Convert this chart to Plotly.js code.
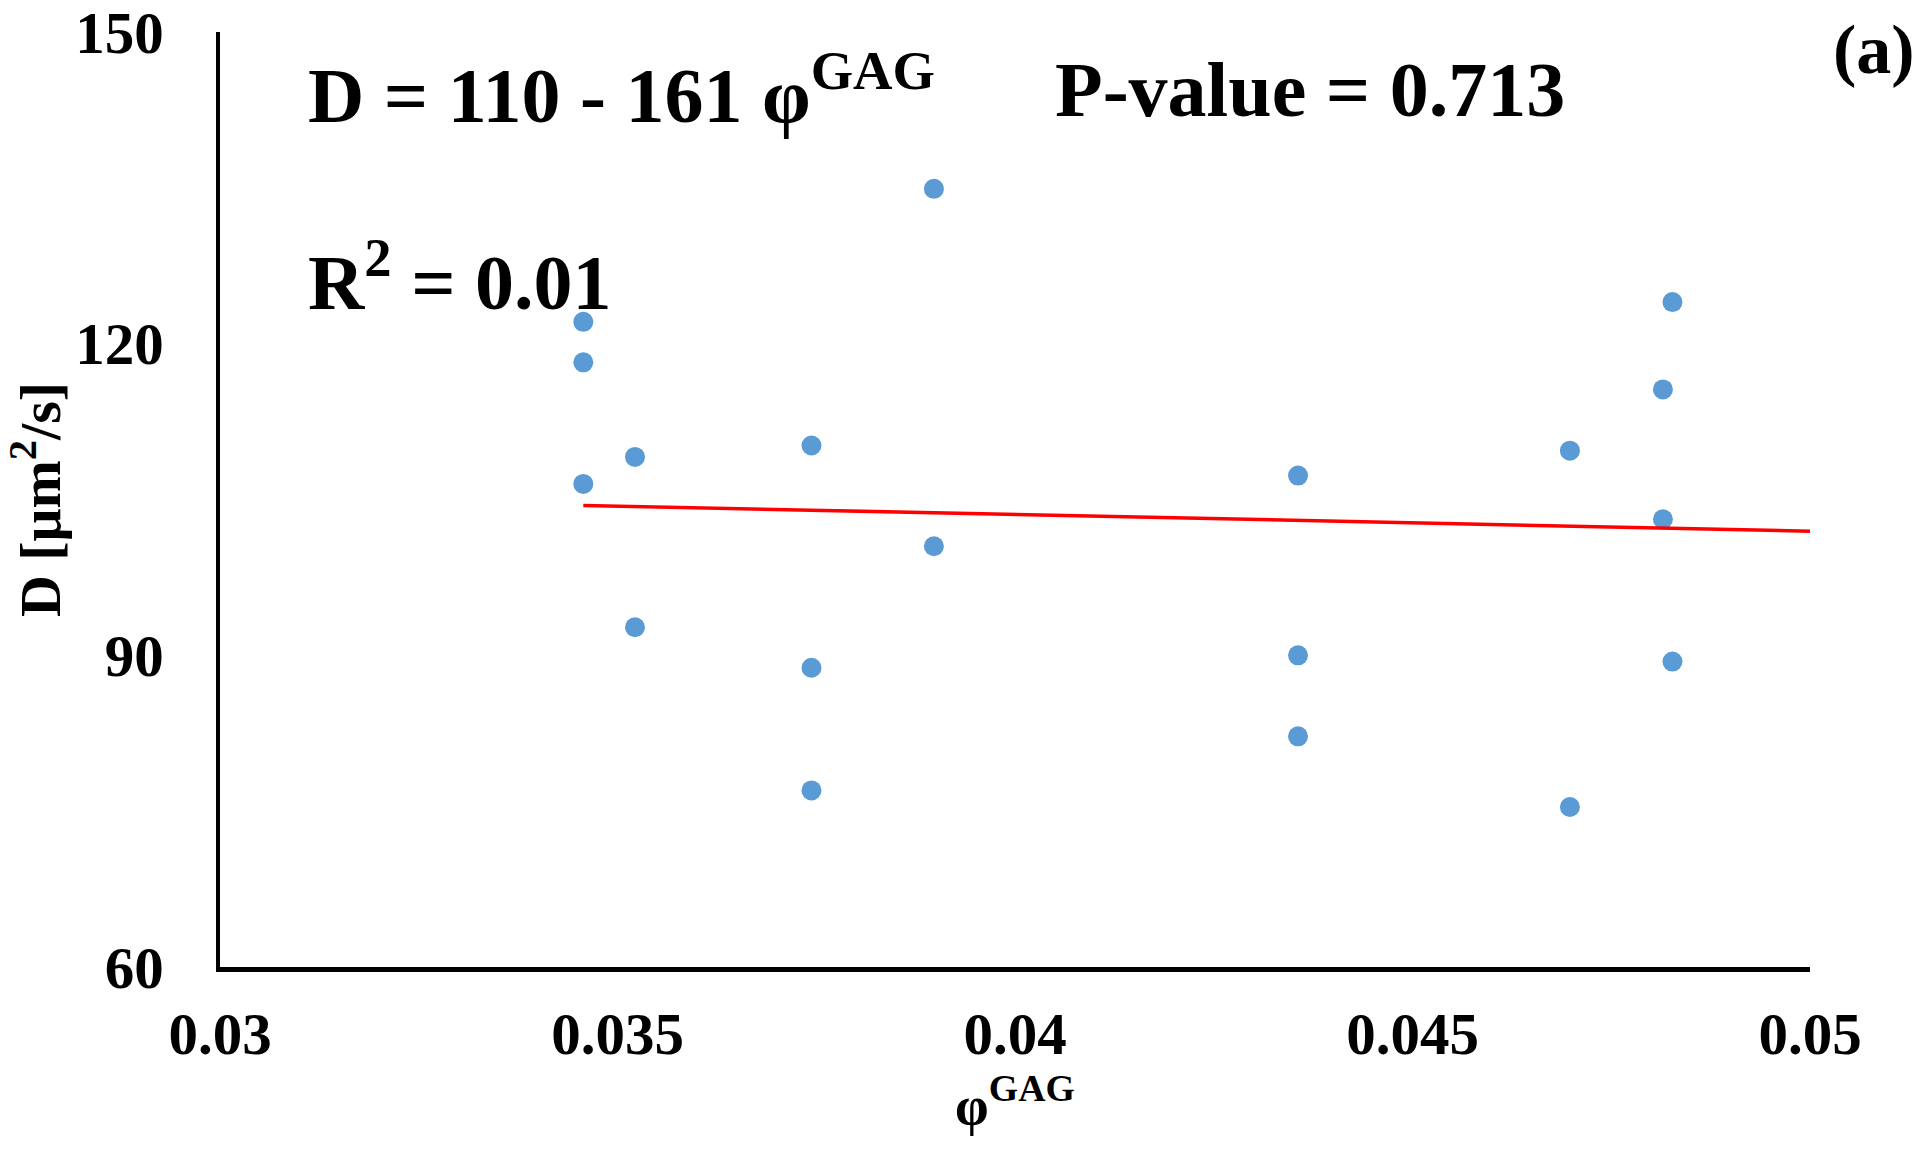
<!DOCTYPE html>
<html>
<head>
<meta charset="utf-8">
<script src="https://cdn.plot.ly/plotly-3.0.1.min.js"></script>
<style>
  html, body { margin: 0; padding: 0; background: #ffffff; }
  #chart { width: 1920px; height: 1152px; }
</style>
</head>
<body>
<div id="chart"></div>
<script>
// ---- data ----
const phiGAG = [0.03457, 0.03457, 0.03457, 0.03522, 0.03522, 0.03744, 0.03744, 0.03744,
                0.03898, 0.03898, 0.04356, 0.04356, 0.04356, 0.04698, 0.04698,
                0.04827, 0.04815, 0.04815, 0.04827];
const diffD = [122.1, 118.2, 106.5, 109.1, 92.7, 110.2, 88.8, 77.0,
               134.9, 100.5, 107.3, 90.0, 82.2, 109.7, 75.4,
               124.0, 115.6, 103.1, 89.4];

// linear fit reported in the figure: D = 110 - 161 phi
const fitIntercept = 110;
const fitSlope = -161;
const fitXEnd = 0.05;

const xTickVals = [0.03, 0.035, 0.04, 0.045, 0.05];
const xTickText = ['0.03', '0.035', '0.04', '0.045', '0.05'];
const yTickVals = [60, 90, 120, 150];
const yTickText = ['60', '90', '120', '150'];

const eqText = 'D = 110 - 161 φ<sup>GAG</sup>';
const pText = 'P-value = 0.713';
const r2Text = 'R<sup>2</sup> = 0.01';
const panelText = '(a)';

// ---- trendline built from the fit ----
const fitX = [Math.min(...phiGAG), fitXEnd];
const fitY = fitX.map(v => fitIntercept + fitSlope * v);

const FONT = 'Liberation Serif, Times New Roman, serif';

const traces = [
  {
    type: 'scatter', mode: 'markers', x: phiGAG, y: diffD,
    marker: { color: '#5B9BD5', size: 20, line: { width: 0 } },
    showlegend: false, hoverinfo: 'x+y', cliponaxis: false
  },
  {
    type: 'scatter', mode: 'lines', x: fitX, y: fitY,
    line: { color: '#FF0000', width: 3.5 },
    showlegend: false
  }
];

const layout = {
  width: 1920, height: 1152,
  paper_bgcolor: '#ffffff', plot_bgcolor: '#ffffff',
  margin: { l: 220, r: 110, t: 32, b: 185, pad: 0 },
  font: { family: FONT, color: '#000000' },
  xaxis: {
    range: [0.03, 0.05], tickvals: xTickVals, ticktext: xTickText,
    showgrid: false, zeroline: false, showline: true, linecolor: '#000000', linewidth: 4.5,
    ticks: '', ticklabelstandoff: 12, ticklabeloverflow: 'allow',
    tickfont: { family: FONT, size: 59, color: '#000000', weight: 'bold' },
    title: { text: '<b>φ<sup>GAG</sup></b>', font: { family: FONT, size: 54, color: '#000000' }, standoff: 10 }
  },
  yaxis: {
    range: [60, 150], tickvals: yTickVals, ticktext: yTickText,
    showgrid: false, zeroline: false, showline: true, linecolor: '#000000', linewidth: 4.5,
    ticks: '', ticklabelstandoff: 40, ticklabeloverflow: 'allow',
    tickfont: { family: FONT, size: 59, color: '#000000', weight: 'bold' },
    title: { text: '<b>D [μm<sup>2</sup>/s]</b>', font: { family: FONT, size: 58, color: '#000000' }, standoff: 23 }
  },
  annotations: [
    { xref: 'paper', yref: 'paper', x: 0.054, y: 0.939, xanchor: 'left', yanchor: 'middle',
      text: '<b>' + eqText + '</b>', showarrow: false,
      font: { family: FONT, size: 78, color: '#000000' } },
    { xref: 'paper', yref: 'paper', x: 0.524, y: 0.939, xanchor: 'left', yanchor: 'middle',
      text: '<b>' + pText + '</b>', showarrow: false,
      font: { family: FONT, size: 78, color: '#000000' } },
    { xref: 'paper', yref: 'paper', x: 0.054, y: 0.738, xanchor: 'left', yanchor: 'middle',
      text: '<b>' + r2Text + '</b>', showarrow: false,
      font: { family: FONT, size: 78, color: '#000000' } },
    { xref: 'paper', yref: 'paper', x: 1.0135, y: 0.981, xanchor: 'left', yanchor: 'middle',
      text: '<b>' + panelText + '</b>', showarrow: false,
      font: { family: FONT, size: 70, color: '#000000' } }
  ]
};

Plotly.newPlot('chart', traces, layout, { displayModeBar: false, staticPlot: true });
</script>
</body>
</html>
